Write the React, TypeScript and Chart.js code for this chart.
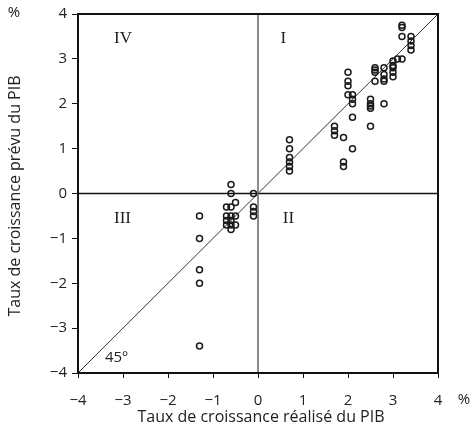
import React, { useEffect, useRef } from "react";
import { Chart, registerables } from "chart.js";

Chart.register(...registerables);

// Realised GDP growth (x) and forecast GDP growth (y), %
const realised: number[] = [
  -1.3, -1.3, -1.3, -1.3, -1.3,
  -0.6, -0.6, -0.7, -0.6, -0.5, -0.7, -0.6, -0.5, -0.7, -0.6, -0.7, -0.6, -0.5, -0.6,
  -0.1, -0.1, -0.1, -0.1,
  0.7, 0.7, 0.7, 0.7, 0.7, 0.7,
  1.7, 1.7, 1.7, 1.9, 1.9, 1.9,
  2.0, 2.0, 2.0, 2.0, 2.1, 2.1, 2.1, 2.1, 2.1,
  2.5, 2.5, 2.5, 2.5, 2.5,
  2.6, 2.6, 2.6, 2.6,
  2.8, 2.8, 2.8, 2.8, 2.8,
  3.0, 3.0, 3.0, 3.0, 3.0,
  3.1, 3.2,
  3.2, 3.2, 3.2,
  3.4, 3.4, 3.4, 3.4,
];
const forecast: number[] = [
  -0.5, -1.0, -1.7, -2.0, -3.4,
  0.2, 0.0, -0.3, -0.3, -0.2, -0.5, -0.5, -0.5, -0.6, -0.6, -0.7, -0.7, -0.7, -0.8,
  0.0, -0.3, -0.4, -0.5,
  1.2, 1.0, 0.8, 0.7, 0.6, 0.5,
  1.5, 1.4, 1.3, 1.25, 0.7, 0.6,
  2.7, 2.5, 2.4, 2.2, 2.2, 2.1, 2.0, 1.7, 1.0,
  2.1, 2.0, 1.95, 1.9, 1.5,
  2.8, 2.75, 2.7, 2.5,
  2.8, 2.65, 2.55, 2.5, 2.0,
  2.95, 2.85, 2.8, 2.7, 2.6,
  3.0, 3.0,
  3.75, 3.7, 3.5,
  3.5, 3.4, 3.3, 3.2,
];
const diagonal: number[] = [-4, 4];
const axisMin = -4;
const axisMax = 4;
const quadrantLabels = [
  { text: "I", x: 0.5, y: 3.45 },
  { text: "II", x: 0.55, y: -0.55 },
  { text: "III", x: -3.2, y: -0.55 },
  { text: "IV", x: -3.2, y: 3.45 },
];

const FONT = "'Open Sans', 'Noto Sans', sans-serif";
const fmt = (v: number) => (v < 0 ? "\u2212" + Math.abs(v) : String(v));

export default function App() {
  const ref = useRef<HTMLCanvasElement | null>(null);
  useEffect(() => {
    if (!ref.current) return;
    const overlay = {
      id: "overlay",
      beforeDatasetsDraw(chart: any) {
        const { ctx, chartArea: a, scales } = chart;
        const x0 = scales.x.getPixelForValue(0);
        const y0 = scales.y.getPixelForValue(0);
        ctx.save();
        ctx.strokeStyle = "#111";
        ctx.lineWidth = 1.5;
        ctx.beginPath();
        ctx.moveTo(a.left, y0);
        ctx.lineTo(a.right, y0);
        ctx.stroke();
        ctx.strokeStyle = "#8a8a8a";
        ctx.lineWidth = 2;
        ctx.beginPath();
        ctx.moveTo(x0, a.top);
        ctx.lineTo(x0, a.bottom);
        ctx.stroke();
        ctx.restore();
      },
      afterDraw(chart: any) {
        const { ctx, chartArea: a, scales } = chart;
        ctx.save();
        ctx.strokeStyle = "#111";
        ctx.lineWidth = 2;
        ctx.strokeRect(a.left, a.top, a.right - a.left, a.bottom - a.top);
        ctx.fillStyle = "#222";
        ctx.font = "17px 'Liberation Serif', serif";
        ctx.textAlign = "left";
        ctx.textBaseline = "middle";
        for (const q of quadrantLabels) {
          ctx.fillText(q.text, scales.x.getPixelForValue(q.x), scales.y.getPixelForValue(q.y));
        }
        ctx.font = "15px " + FONT;
        ctx.fillText("45\u00ba", scales.x.getPixelForValue(-3.4), scales.y.getPixelForValue(-3.65));
        ctx.textAlign = "center";
        ctx.fillText("%", 14, 13);
        ctx.fillText("%", 464, 400);
        ctx.font = "16px " + FONT;
        ctx.fillText("Taux de croissance réalisé du PIB", (a.left + a.right) / 2 + 3, 417);
        ctx.translate(15, 196);
        ctx.rotate(-Math.PI / 2);
        ctx.fillText("Taux de croissance prévu du PIB", 0, 0);
        ctx.restore();
      },
    };
    const chart = new Chart(ref.current, {
      type: "scatter",
      data: {
        datasets: [
          {
            data: realised.map((x, i) => ({ x, y: forecast[i] })),
            pointRadius: 3,
            pointBorderWidth: 1.5,
            borderColor: "#1a1a1a",
            backgroundColor: "rgba(0,0,0,0)",
            order: 1,
          },
          {
            type: "line",
            data: diagonal.map((v) => ({ x: v, y: v })),
            borderColor: "#333",
            borderWidth: 1,
            pointRadius: 0,
            order: 2,
          } as any,
        ],
      },
      options: {
        animation: false,
        responsive: false,
        maintainAspectRatio: false,
        layout: { padding: { top: 12, right: 32, left: 0, bottom: 0 } },
        plugins: { legend: { display: false }, tooltip: { enabled: false } },
        scales: {
          x: {
            type: "linear",
            min: axisMin,
            max: axisMax,
            afterFit: (s: any) => { s.height = 59; },
            ticks: { stepSize: 1, padding: 14, color: "#222", font: { family: FONT, size: 15 }, callback: (v: any) => fmt(Number(v)) },
            grid: { drawOnChartArea: false, drawTicks: true, tickLength: 5, color: "#111", lineWidth: 1 },
            border: { display: true, color: "#111", width: 2 },
          },
          y: {
            type: "linear",
            min: axisMin,
            max: axisMax,
            afterFit: (s: any) => { s.width = 78; },
            ticks: { stepSize: 1, padding: 5, color: "#222", font: { family: FONT, size: 15 }, callback: (v: any) => fmt(Number(v)) },
            grid: { drawOnChartArea: false, drawTicks: true, tickLength: 6, color: "#111", lineWidth: 1 },
            border: { display: true, color: "#111", width: 2 },
          },
        },
      },
      plugins: [overlay],
    });
    return () => chart.destroy();
  }, []);
  return (
    <div style={{ position: "fixed", left: 0, top: 0, width: 470, height: 432, background: "#fff" }}>
      <canvas ref={ref} width={470} height={432} />
    </div>
  );
}
